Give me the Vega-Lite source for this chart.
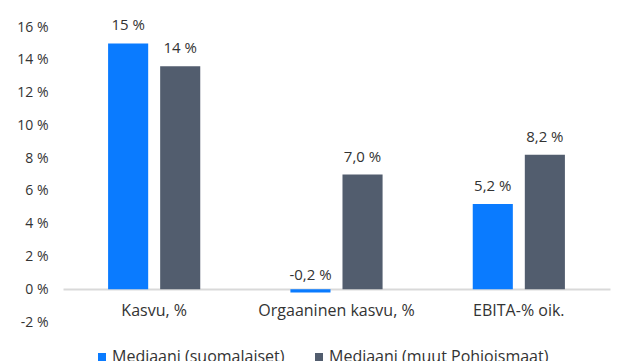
{
  "$schema": "https://vega.github.io/schema/vega-lite/v6.json",
  "autosize": "none",
  "width": 547,
  "height": 295,
  "padding": {"left": 63, "top": 27, "right": 30, "bottom": 39},
  "background": "white",
  "config": {
    "font": "Open Sans",
    "view": {"stroke": null},
    "axis": {"labelFont": "Open Sans", "labelColor": "#333333", "labelFontSize": 14}
  },
  "data": {
    "values": [
      {"kategoria": "Kasvu, %", "sarja": "Mediaani (suomalaiset)", "arvo": 15.0, "teksti": "15 %"},
      {"kategoria": "Kasvu, %", "sarja": "Mediaani  (muut Pohjoismaat)", "arvo": 13.6, "teksti": "14 %"},
      {"kategoria": "Orgaaninen kasvu, %", "sarja": "Mediaani (suomalaiset)", "arvo": -0.2, "teksti": "-0,2 %"},
      {"kategoria": "Orgaaninen kasvu, %", "sarja": "Mediaani  (muut Pohjoismaat)", "arvo": 7.0, "teksti": "7,0 %"},
      {"kategoria": "EBITA-% oik.", "sarja": "Mediaani (suomalaiset)", "arvo": 5.2, "teksti": "5,2 %"},
      {"kategoria": "EBITA-% oik.", "sarja": "Mediaani  (muut Pohjoismaat)", "arvo": 8.2, "teksti": "8,2 %"}
    ]
  },
  "encoding": {
    "x": {
      "field": "kategoria", "type": "nominal",
      "sort": ["Kasvu, %", "Orgaaninen kasvu, %", "EBITA-% oik."],
      "scale": {"paddingInner": 0.4945, "paddingOuter": 0.2473},
      "axis": {"title": null, "labelAngle": 0, "ticks": false, "domain": true, "domainColor": "#d9d9d9", "domainWidth": 2, "offset": -33, "labelPadding": 13, "labelFontSize": 16}
    },
    "xOffset": {
      "field": "sarja", "type": "nominal",
      "sort": ["Mediaani (suomalaiset)", "Mediaani  (muut Pohjoismaat)"],
      "scale": {"paddingInner": 0.23, "paddingOuter": 0}
    },
    "y": {
      "field": "arvo", "type": "quantitative",
      "scale": {"domain": [-2, 16], "nice": false, "zero": false},
      "axis": {"title": null, "values": [-2, 0, 2, 4, 6, 8, 10, 12, 14, 16], "labelExpr": "datum.value + ' %'", "grid": false, "ticks": false, "domain": false, "labelPadding": 15}
    }
  },
  "layer": [
    {
      "mark": {"type": "bar"},
      "encoding": {
        "color": {
          "field": "sarja", "type": "nominal",
          "sort": ["Mediaani (suomalaiset)", "Mediaani  (muut Pohjoismaat)"],
          "scale": {"domain": ["Mediaani (suomalaiset)", "Mediaani  (muut Pohjoismaat)"], "range": ["#0A7BFF", "#525D6E"]},
          "legend": {
            "title": null, "orient": "none", "direction": "horizontal",
            "legendX": 31, "legendY": 322,
            "symbolType": "square", "symbolSize": 64, "symbolStrokeWidth": 0,
            "labelFont": "Open Sans", "labelFontSize": 16, "labelColor": "#333333",
            "labelLimit": 400, "columnPadding": 26, "labelOffset": 2
          }
        }
      }
    },
    {
      "mark": {"type": "text", "baseline": "bottom", "dy": -10, "font": "Open Sans", "fontSize": 15, "color": "#333333"},
      "encoding": {"text": {"field": "teksti"}}
    }
  ]
}
